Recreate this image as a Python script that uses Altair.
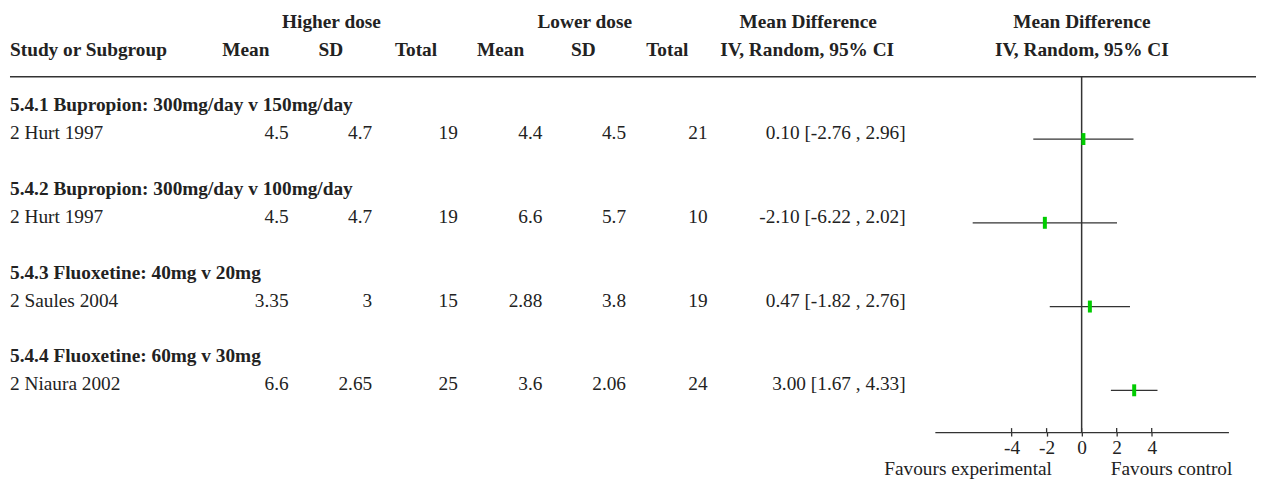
import altair as alt
import pandas as pd

# ---------------- data ----------------
groups = ["5.4.1 Bupropion: 300mg/day v 150mg/day",
          "5.4.2 Bupropion: 300mg/day v 100mg/day",
          "5.4.3 Fluoxetine: 40mg v 20mg",
          "5.4.4 Fluoxetine: 60mg v 30mg"]
studies = ["2 Hurt 1997", "2 Hurt 1997", "2 Saules 2004", "2 Niaura 2002"]
hi_mean = [4.5, 4.5, 3.35, 6.6]
hi_sd = [4.7, 4.7, 3, 2.65]
hi_total = [19, 19, 15, 25]
lo_mean = [4.4, 6.6, 2.88, 3.6]
lo_sd = [4.5, 5.7, 3.8, 2.06]
lo_total = [21, 10, 19, 24]
md = [0.10, -2.10, 0.47, 3.00]
ci_low = [-2.76, -6.22, -1.82, 1.67]
ci_high = [2.96, 2.02, 2.76, 4.33]
axis_ticks = [-4, -2, 0, 2, 4]

# ---------------- style ----------------
FONT = "Liberation Serif"
FS = 19.4
INK = "#222222"
LINE = "#333333"
GREEN = "#00cc00"
W, H = 1254, 473
AXIS_Y = 425


def fmt(v):
    return f"{v:g}"


study_df = pd.DataFrame({
    "row": [3 * i + 1 for i in range(len(studies))],
    "study": studies,
    "hi_mean": [fmt(v) for v in hi_mean],
    "hi_sd": [fmt(v) for v in hi_sd],
    "hi_total": [fmt(v) for v in hi_total],
    "lo_mean": [fmt(v) for v in lo_mean],
    "lo_sd": [fmt(v) for v in lo_sd],
    "lo_total": [fmt(v) for v in lo_total],
    "md": md,
    "lo": ci_low,
    "hi": ci_high,
    "ci_text": [f"{m:.2f} [{l:.2f} , {h:.2f}]" for m, l, h in zip(md, ci_low, ci_high)],
})
group_df = pd.DataFrame({"row": [3 * i for i in range(len(groups))], "label": groups})
tick_df = pd.DataFrame({"v": axis_ticks})
one = pd.DataFrame({"a": [0]})

# text rows (baselines) and mark rows share the row layout
yscale_txt = alt.Scale(domain=[0, 10], range=[102.5, 383])
yscale_mark = alt.Scale(domain=[0, 10], range=[101.6, 383])
xscale = alt.Scale(domain=[-8.38, 8.38], range=[931.3, 1226.3])
YT = alt.Y("row:Q", scale=yscale_txt, axis=None)
YM = alt.Y("row:Q", scale=yscale_mark, axis=None)

AX = alt.Axis(values=axis_ticks, offset=AXIS_Y - H, tickSize=4, tickColor=LINE,
              domainColor=LINE, tickWidth=1.3, domainWidth=1.3,
              labelFont=FONT, labelFontSize=FS, labelColor=INK,
              labelBaseline="alphabetic", labelPadding=18,
              grid=False, title="", labelExpr="'' + datum.value",
              labelFlush=False, labelOverlap=False)


def label(text, x, y, align="center", bold=True):
    return alt.Chart(pd.DataFrame({"t": [text]})).mark_text(
        align=align, baseline="alphabetic", font=FONT, fontSize=FS,
        fontWeight="bold" if bold else "normal", color=INK
    ).encode(x=alt.value(x), y=alt.value(y), text="t:N")


def col(field, xr, align="right"):
    return alt.Chart(study_df).mark_text(
        align=align, baseline="alphabetic", font=FONT, fontSize=FS, color=INK
    ).encode(x=alt.value(xr), y=YT, text=f"{field}:N")


layers = []
# headers
R1, R2 = 18.7, 47
layers += [
    label("Higher dose", 325, R1),
    label("Lower dose", 579.5, R1),
    label("Mean Difference", 804, R1),
    label("Mean Difference", 1079, R1),
    label("Study or Subgroup", 2, R2, align="left"),
    label("Mean", 239, R2),
    label("SD", 324.5, R2),
    label("Total", 410, R2),
    label("Mean", 495, R2),
    label("SD", 578, R2),
    label("Total", 662.5, R2),
    label("IV, Random, 95% CI", 803, R2),
    label("IV, Random, 95% CI", 1079, R2),
]
# header separator
layers.append(alt.Chart(one).mark_rule(color=LINE, strokeWidth=1.5).encode(
    x=alt.value(2), x2=alt.value(1254), y=alt.value(68)))

# group labels
layers.append(alt.Chart(group_df).mark_text(
    align="left", baseline="alphabetic", font=FONT, fontSize=FS, fontWeight="bold", color=INK
).encode(x=alt.value(2), y=YT, text="label:N"))

# table columns
layers += [
    col("study", 2, align="left"),
    col("hi_mean", 282),
    col("hi_sd", 366),
    col("hi_total", 452),
    col("lo_mean", 537),
    col("lo_sd", 621),
    col("lo_total", 703),
    col("ci_text", 902),
]

# forest plot: CI lines with axis
layers.append(alt.Chart(study_df).mark_rule(color=LINE, strokeWidth=1.3).encode(
    x=alt.X("lo:Q", scale=xscale, axis=AX), x2="hi:Q", y=YM))
# zero line
layers.append(alt.Chart(one).mark_rule(color=LINE, strokeWidth=1.5).encode(
    x=alt.X(datum=0, type="quantitative", scale=xscale, axis=AX),
    y=alt.value(68), y2=alt.value(AXIS_Y)))
# upper halves of ticks
layers.append(alt.Chart(tick_df).mark_rule(color=LINE, strokeWidth=1.3).encode(
    x=alt.X("v:Q", scale=xscale, axis=AX), y=alt.value(AXIS_Y - 4), y2=alt.value(AXIS_Y)))
# point estimates
layers.append(alt.Chart(study_df).mark_tick(
    orient="vertical", thickness=4, size=12, color=GREEN, opacity=1
).encode(x=alt.X("md:Q", scale=xscale, axis=AX), y=YM))

# favours labels
layers += [
    label("Favours experimental", 1049, 468.5, align="right", bold=False),
    label("Favours control", 1108, 468.5, align="left", bold=False),
]

chart = alt.layer(*layers).properties(
    width=W, height=H, padding=0,
    autosize=alt.AutoSizeParams(type="none"),
).configure_view(stroke=None)

chart.save("out.html", embed_options={"renderer": "svg", "actions": False})
